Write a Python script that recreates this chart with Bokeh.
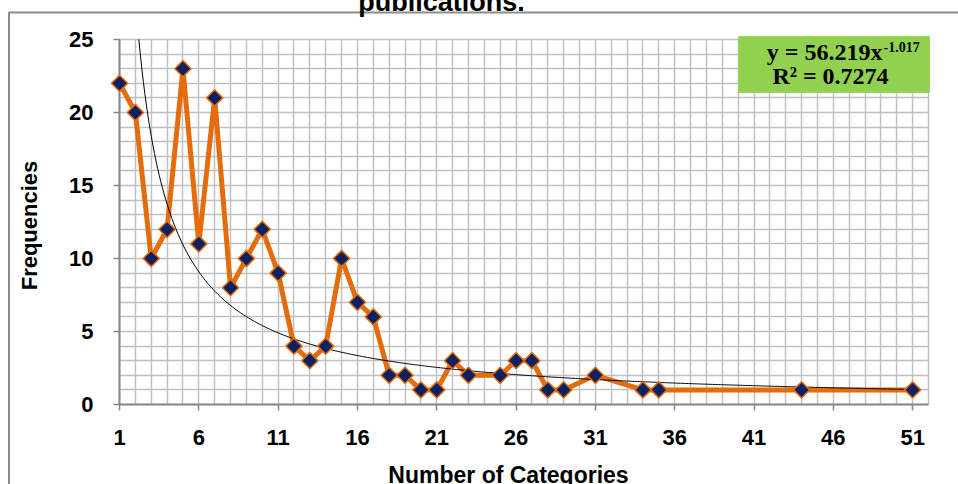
import numpy as np
from bokeh.plotting import figure
from bokeh.models import Range1d, FixedTicker
from bokeh.core.properties import value
from bokeh.embed import file_html
from bokeh.resources import INLINE

# ---- data ----
categories = [1, 2, 3, 4, 5, 6, 7, 8, 9, 10, 11, 12, 13, 14, 15, 16, 17, 18, 19, 20,
              21, 22, 23, 25, 26, 27, 28, 29, 31, 34, 35, 44, 51]
frequencies = [22, 20, 10, 12, 23, 11, 21, 8, 10, 12, 9, 4, 3, 4, 10, 7, 6, 2, 2, 1,
               1, 3, 2, 2, 3, 3, 1, 1, 2, 1, 1, 1, 1]
x_tick_values = [1, 6, 11, 16, 21, 26, 31, 36, 41, 46, 51]
y_tick_values = [0, 5, 10, 15, 20, 25]
trend_coef = 56.219
trend_exp = -1.017
equation_text = "y = 56.219x"
equation_exp_text = "-1.017"
r2_text = "R\u00b2 = 0.7274"
title_text = "publications."
x_title = "Number of Categories"
y_title = "Frequencies"

# ---- layout (pixels) ----
W, H = 958, 484
FL, FT, FW, FH = 119, 39, 809, 365
X0, X1, Y0, Y1 = 1, 52, 0, 25


def dx(px):
    """canvas pixel x -> data x"""
    return X0 + (px - FL) * (X1 - X0) / FW


def dy(py):
    """canvas pixel y -> data y"""
    return Y0 + (FT + FH - py) * (Y1 - Y0) / FH


p = figure(width=W, height=H, output_backend="svg", toolbar_location=None,
           x_range=Range1d(X0, X1), y_range=Range1d(Y0, Y1),
           min_border_left=FL, min_border_right=W - FL - FW,
           min_border_top=FT, min_border_bottom=H - FT - FH,
           background_fill_color="white", border_fill_color="white")
p.outline_line_color = "#bfbfbf"
p.outline_line_width = 1.5

p.xaxis.ticker = FixedTicker(ticks=x_tick_values)
p.yaxis.ticker = FixedTicker(ticks=y_tick_values)
p.xgrid.ticker = FixedTicker(ticks=list(range(X0, X1 + 1)))
p.ygrid.ticker = FixedTicker(ticks=list(range(Y0, Y1 + 1)))
for g in (p.xgrid, p.ygrid):
    g.grid_line_color = "#c0c0c0"
    g.grid_line_width = 1.5

for ax in (p.xaxis, p.yaxis):
    ax.axis_line_color = "#888888"
    ax.axis_line_width = 2
    ax.major_tick_line_color = "#888888"
    ax.major_tick_line_width = 1.5
    ax.major_tick_out = 6
    ax.major_tick_in = 0
    ax.minor_tick_out = 0
    ax.minor_tick_in = 0
    ax.major_label_text_font = "Liberation Sans"
    ax.major_label_text_font_style = "bold"
    ax.major_label_text_font_size = "22px"
    ax.major_label_text_color = "black"
p.yaxis.major_label_standoff = 20
p.xaxis.major_label_standoff = 19

# trend line from the shown equation
tx = np.linspace(1, 51, 500)
ty = trend_coef * tx ** trend_exp

p.line(categories, frequencies, line_color="#e46c0a", line_width=5, line_join="round")
p.line(tx, ty, line_color="black", line_width=1)
p.scatter(categories, frequencies, marker="square", angle=np.pi / 4, size=11.5,
          fill_color="#0b2161", line_color="#e46c0a", line_width=1.5, level="overlay")

# outer chart border (unclipped, overlay level)
p.quad(left=[dx(8.5)], right=[dx(W + 50)], top=[dy(12)], bottom=[dy(H + 50)],
       fill_alpha=0, line_color="#8c8c8c", line_width=2, level="overlay")

# equation box
p.quad(left=[dx(738)], right=[dx(929)], top=[dy(36)], bottom=[dy(92)],
       fill_color="#92d050", line_color="#9ad85a", line_width=1, level="overlay")

serif = value("Liberation Serif")
sans = value("Liberation Sans")
common = dict(text_baseline="middle", text_font_style="bold", text_color="black",
              level="overlay")
p.text(x=[dx(882)], y=[dy(51)], text=[equation_text], text_align="right",
       text_font=serif, text_font_size="24px", **common)
p.text(x=[dx(883)], y=[dy(46)], text=[equation_exp_text], text_align="left",
       text_font=serif, text_font_size="14px", **common)
p.text(x=[dx(830)], y=[dy(75)], text=[r2_text], text_align="center",
       text_font=serif, text_font_size="24px", **common)

# titles
p.text(x=[dx(441)], y=[dy(1)], text=[title_text], text_align="center",
       text_font=sans, text_font_size="27px", **common)
p.text(x=[dx(508)], y=[dy(474)], text=[x_title], text_align="center",
       text_font=sans, text_font_size="23px", **common)
p.text(x=[dx(29)], y=[dy(225)], text=[y_title], angle=np.pi / 2, text_align="center",
       text_font=sans, text_font_size="22px", **common)

open("out.html", "w").write(file_html(p, INLINE))
